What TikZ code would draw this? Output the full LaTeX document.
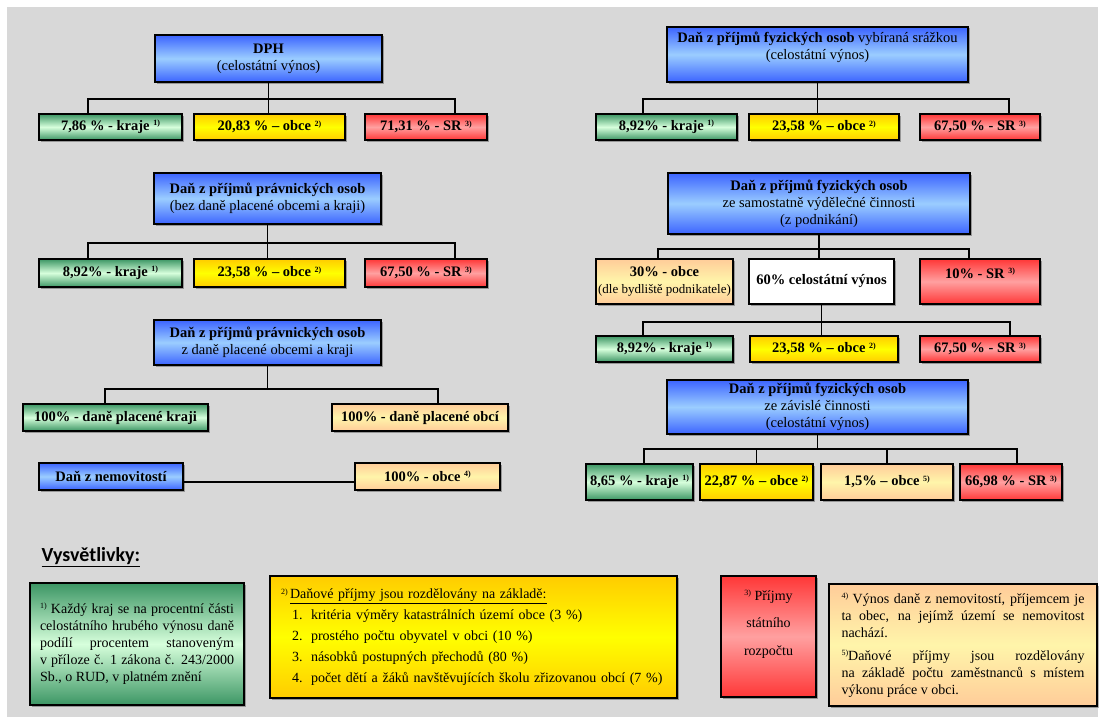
\documentclass[tikz,border=0pt]{standalone}
\usepackage{fontspec}
\setmainfont{Liberation Serif}
\newfontfamily\calibri{Carlito}
\usetikzlibrary{shadows,calc}

\definecolor{bg}{RGB}{216,216,216}
\definecolor{blueD}{RGB}{60,100,255}
\definecolor{blueL}{RGB}{155,205,255}
\definecolor{greenD}{RGB}{60,150,100}
\definecolor{greenL}{RGB}{215,255,220}
\definecolor{yelD}{RGB}{255,204,0}
\definecolor{yelL}{RGB}{255,255,0}
\definecolor{redD}{RGB}{255,55,55}
\definecolor{redL}{RGB}{255,160,160}
\definecolor{peachD}{RGB}{255,204,153}
\definecolor{peachL}{RGB}{255,245,170}

\newcommand\fnm[1]{\raisebox{4.5pt}{\fontsize{8}{8}\selectfont #1}}
\newcommand\bx[7]{\node[box,#6,minimum width={(#4)-(#2)},minimum height={(#5)-(#3)}] (#1) at ({((#2)+(#4))/2},{((#3)+(#5))/2}) {#7};}

\tikzset{
  box/.style={draw=black, line width=1.5pt, inner sep=1pt, align=center,
    font=\fontsize{14.5}{17}\selectfont,
    drop shadow={shadow xshift=1.5pt, shadow yshift=-1.5pt, opacity=0.3, fill=black}},
  bluebox/.style={top color=blueD, bottom color=blueD, middle color=blueL},
  greenbox/.style={top color=greenD, bottom color=greenD, middle color=greenL},
  yellowbox/.style={top color=yelD, bottom color=yelD, middle color=yelL},
  redbox/.style={top color=redD, bottom color=redD, middle color=redL},
  peachbox/.style={top color=peachD, bottom color=peachD, middle color=peachL},
  whitebox/.style={fill=white},
  conn/.style={line width=1.5pt, draw=black},
}

\begin{document}
\begin{tikzpicture}[x=1pt,y=-1pt]
\useasboundingbox (0,0) rectangle (1103,717);
\fill[white] (0,0) rectangle (1103,717);
\fill[bg] (7,7) rectangle (1098,717);

% ---------- row 1 left
\bx{dph}{155}{35}{382}{82}{bluebox}{{\bfseries DPH}\\(celostátní výnos)}
\bx{k1}{39}{114}{182}{140}{greenbox}{\bfseries 7,86 \% - kraje \fnm{1)}}
\bx{o1}{194}{114}{345}{140}{yellowbox}{\bfseries 20,83 \% – obce \fnm{2)}}
\bx{s1}{365}{114}{487}{140}{redbox}{\bfseries 71,31 \% - SR \fnm{3)}}

% ---------- row 1 right
\bx{fz1}{667}{27}{968}{82}{bluebox}{{\bfseries Daň z příjmů fyzických osob} vybíraná srážkou\\(celostátní výnos)\\\mbox{}}
\bx{k2}{596}{114}{737}{140}{greenbox}{\bfseries 8,92\% - kraje \fnm{1)}}
\bx{o2}{749}{114}{899}{140}{yellowbox}{\bfseries 23,58 \% – obce \fnm{2)}}
\bx{s2}{920}{114}{1040}{140}{redbox}{\bfseries 67,50 \% - SR \fnm{3)}}

% ---------- row 2 left
\bx{ppo1}{154}{173}{381}{224}{bluebox}{{\bfseries Daň z příjmů právnických osob}\\(bez daně placené obcemi a kraji)}
\bx{k3}{39}{259}{182}{287}{greenbox}{\bfseries 8,92\% - kraje \fnm{1)}}
\bx{o3}{194}{259}{345}{287}{yellowbox}{\bfseries 23,58 \% – obce \fnm{2)}}
\bx{s3}{365}{259}{487}{287}{redbox}{\bfseries 67,50 \% - SR \fnm{3)}}

% ---------- row 2 right
\bx{fz2}{668}{173}{970}{234}{bluebox}{{\bfseries Daň z příjmů fyzických osob}\\ze samostatně výdělečné činnosti\\(z podnikání)}
\bx{ob30}{596}{259}{733}{304}{peachbox}{{\bfseries 30\% - obce}\\{\fontsize{13}{15}\selectfont (dle bydliště podnikatele)}}
\bx{v60}{749}{259}{894}{304}{whitebox}{\bfseries 60\% celostátní výnos}
\bx{s10}{920}{259}{1040}{304}{redbox}{{\bfseries 10\% - SR \fnm{3)}}\\\mbox{}}
\bx{k4}{596}{336}{733}{362}{greenbox}{\bfseries 8,92\% - kraje \fnm{1)}}
\bx{o4}{750}{336}{898}{362}{yellowbox}{\bfseries 23,58 \% – obce \fnm{2)}}
\bx{s4}{920}{336}{1040}{362}{redbox}{\bfseries 67,50 \% - SR \fnm{3)}}

% ---------- row 3 left
\bx{ppo2}{154}{320}{381}{365}{bluebox}{{\bfseries Daň z příjmů právnických osob}\\z daně placené obcemi a kraji}
\bx{kr100}{23}{404}{208}{431}{greenbox}{\bfseries 100\% - daně placené kraji}
\bx{ob100a}{332}{404}{508}{431}{peachbox}{\bfseries 100\% - daně placené obcí}
\bx{nem}{39}{463}{183}{490}{bluebox}{\bfseries Daň z nemovitostí}
\bx{ob100b}{355}{463}{500}{490}{peachbox}{\bfseries 100\% - obce \fnm{4)}}

% ---------- row 3 right
\bx{fz3}{667}{380}{968}{434}{bluebox}{{\bfseries Daň z příjmů fyzických osob}\\ze závislé činnosti\\(celostátní výnos)}
\bx{k5}{586}{464}{693}{500}{greenbox}{\bfseries 8,65 \% - kraje \fnm{1)}}
\bx{o5}{700}{464}{813}{500}{yellowbox}{\bfseries 22,87 \% – obce \fnm{2)}}
\bx{p5}{821}{464}{953}{500}{peachbox}{\bfseries 1,5\% – obce \fnm{5)}}
\bx{s5}{960}{464}{1062}{500}{redbox}{\bfseries 66,98 \% - SR \fnm{3)}}

% ---------- connectors
\draw[conn] ([xshift=-22.5pt]k1.north) |- ([yshift=-16pt]dph.south) -| ([xshift=29pt]s1.north);
\draw[conn] (dph.south) -- (dph.south |- o1.north);

\draw[conn] ([xshift=-23.5pt]k2.north) |- ([yshift=-16pt]fz1.south) -| ([xshift=29pt]s2.north);
\draw[conn] (fz1.south) -- (fz1.south |- o2.north);

\draw[conn] ([xshift=-22.5pt]k3.north) |- ([yshift=-18pt]ppo1.south) -| ([xshift=29pt]s3.north);
\draw[conn] (ppo1.south) -- (ppo1.south |- o3.north);

\draw[conn] ([xshift=-6.5pt]ob30.north) |- ([yshift=-14pt]fz2.south) -| ([xshift=-11pt]s10.north);
\draw[conn] (fz2.south) -- (fz2.south |- v60.north);
\draw[conn] ([xshift=-21.5pt]k4.north) |- ([yshift=-17pt]v60.south) -| ([xshift=30pt]s4.north);
\draw[conn] (v60.south) -- (v60.south |- o4.north);

\draw[conn] ([xshift=-10.5pt]kr100.north) |- ([yshift=-23pt]ppo2.south) -| ([xshift=18pt]ob100a.north);
\draw[conn] (ppo2.south) -- ([yshift=-23pt]ppo2.south);
\draw[conn] ([yshift=-5.5pt]nem.east) -- ([yshift=-5.5pt]ob100b.west);

\draw[conn] ([xshift=4.5pt]k5.north) |- ([yshift=-14pt]fz3.south) coordinate (b5) -| ([xshift=6pt]s5.north);
\draw[conn] (fz3.south) -- (b5);
\draw[conn] (o5.north) -- (o5.north |- b5);
\draw[conn] (p5.north) -- (p5.north |- b5);

% ---------- legend
\node[anchor=west, font=\fontsize{20}{22}\selectfont\calibri\bfseries] (vys) at (38,557) {\underline{Vysvětlivky:}};

\node[box, greenbox, minimum width=214, minimum height=122, text width=194, align=justify,
      font=\fontsize{14}{17.2}\selectfont] (lg1) at (137,644)
  {\fnm{1)} Každý kraj se na procentní části\linebreak celostátního hrubého výnosu daně\linebreak podílí procentem stanoveným\linebreak v příloze č. 1 zákona č. 243/2000\linebreak Sb., o RUD, v platném znění};

\node[box, yellowbox, minimum width=407, minimum height=122, text width=385, align=left,
      font=\fontsize{14}{21}\selectfont] (lg2) at (473.5,637)
  {\fnm{2)}\,\underline{Daňové příjmy jsou rozdělovány na základě:}\\
   \hspace*{11pt}\makebox[19pt][l]{1.}kritéria výměry katastrálních území obce (3 \%)\\
   \hspace*{11pt}\makebox[19pt][l]{2.}prostého počtu obyvatel v obci (10 \%)\\
   \hspace*{11pt}\makebox[19pt][l]{3.}násobků postupných přechodů (80 \%)\\
   \hspace*{11pt}\makebox[19pt][l]{4.}počet dětí a žáků navštěvujících školu zřizovanou obcí (7 \%)};

\node[box, redbox, minimum width=95, minimum height=121, align=center,
      font=\fontsize{14}{27.5}\selectfont] (lg3) at (768.5,636.5)
  {\fnm{3)} Příjmy\\státního\\rozpočtu\\\mbox{}};

\node[box, peachbox, minimum width=268, minimum height=122, text width=243, align=justify,
      font=\fontsize{14}{17}\selectfont] (lg4) at (963,645)
  {\fnm{4)} Výnos daně z nemovitostí, příjemcem je\linebreak ta obec, na jejímž území se nemovitost\linebreak nachází.\\[6pt]
   \fnm{5)}Daňové příjmy jsou rozdělovány\linebreak na základě počtu zaměstnanců s místem\linebreak výkonu práce v obci.};
\end{tikzpicture}
\end{document}
